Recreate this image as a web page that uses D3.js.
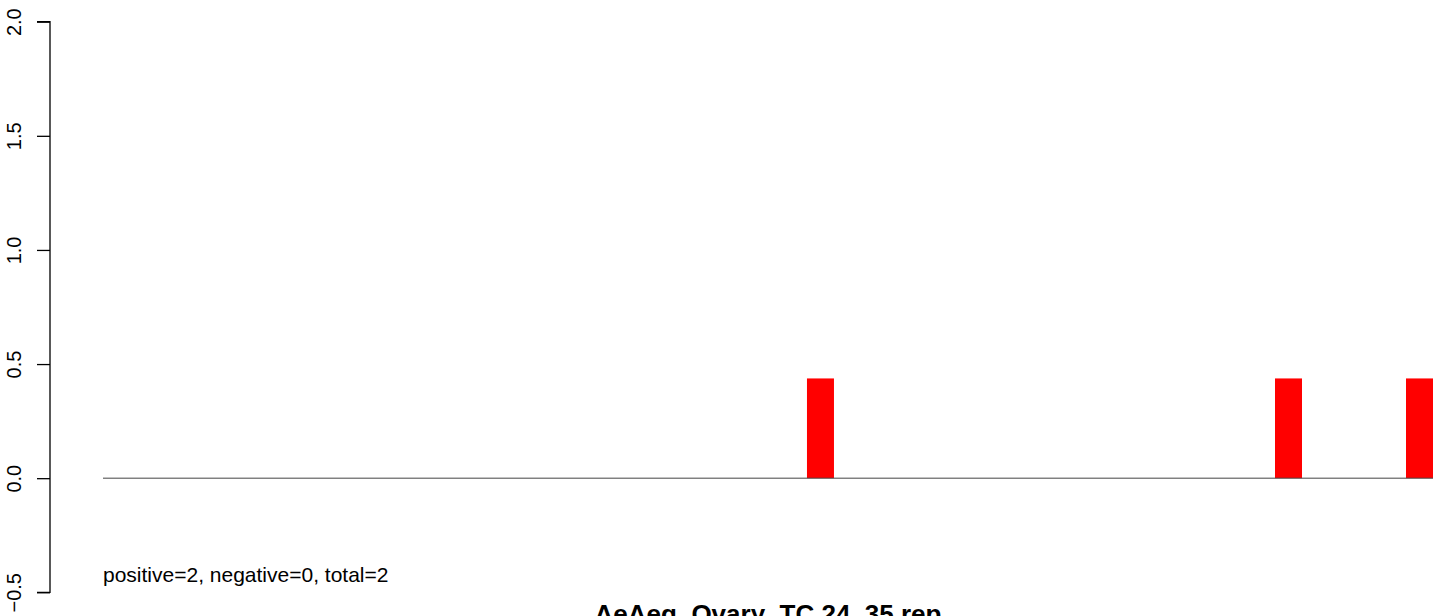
<!DOCTYPE html>
<html><head><meta charset="utf-8">
<script src="https://cdn.jsdelivr.net/npm/d3@7"></script>
<style>body{margin:0;background:#fff;overflow:hidden}svg{display:block;font-family:"Liberation Sans",Arial,sans-serif}</style>
</head><body><svg id="c" width="1449" height="616"></svg>
<script>
const barStarts = [52.93, 88.12, 97.97];
const barWidth = 2.03;
const barValues = [0.437, 0.437, 0.437];
const yTicks = [-0.5, 0.0, 0.5, 1.0, 1.5, 2.0];
const yTickLabels = ["\u22120.5", "0.0", "0.5", "1.0", "1.5", "2.0"];
const note = "positive=2, negative=0, total=2";
const title = "AeAeg_Ovary_TC.24_35.rep";

const svg = d3.select("#c");
const x = d3.scaleLinear().domain([0, 100]).range([103, 1433]);
const y = d3.scaleLinear().domain([-0.5, 2.0]).range([592.3, 21.7]);

// y axis
const ax = svg.append("g").attr("transform", "translate(50,0)")
  .call(d3.axisLeft(y).tickValues(yTicks).tickSize(13).tickFormat((d,i)=>yTickLabels[i]));
ax.select(".domain").attr("d", `M-13,${y(2.0)}H0V${y(-0.5)}H-13`).attr("stroke","#000").attr("stroke-width",1.3);
ax.selectAll(".tick line").attr("stroke","#000").attr("stroke-width",1.3);
ax.selectAll(".tick text").attr("font-size",20).attr("fill","#000")
  .attr("x",0).attr("dy",0).attr("text-anchor","middle")
  .attr("transform", "translate(-29,0) rotate(-90)").attr("y",0);

// bars
svg.append("g").selectAll("rect").data(barStarts).join("rect")
  .attr("x", d => x(d)).attr("width", x(barWidth) - x(0))
  .attr("y", (d,i) => y(barValues[i])).attr("height", (d,i) => y(0) - y(barValues[i]))
  .attr("fill", "#ff0000");

// baseline
svg.append("line").attr("x1", x(0)).attr("x2", x(100)).attr("y1", y(0)).attr("y2", y(0))
  .attr("stroke", "#444").attr("stroke-width", 1);

svg.append("text").attr("x", x(0)).attr("y", 582).attr("font-size", 21).attr("fill","#000").text(note);
svg.append("text").attr("x", (x(0)+x(100))/2).attr("y", 623).attr("text-anchor","middle")
  .attr("font-size", 26).attr("font-weight","bold").attr("fill","#000").text(title);
</script></body></html>
